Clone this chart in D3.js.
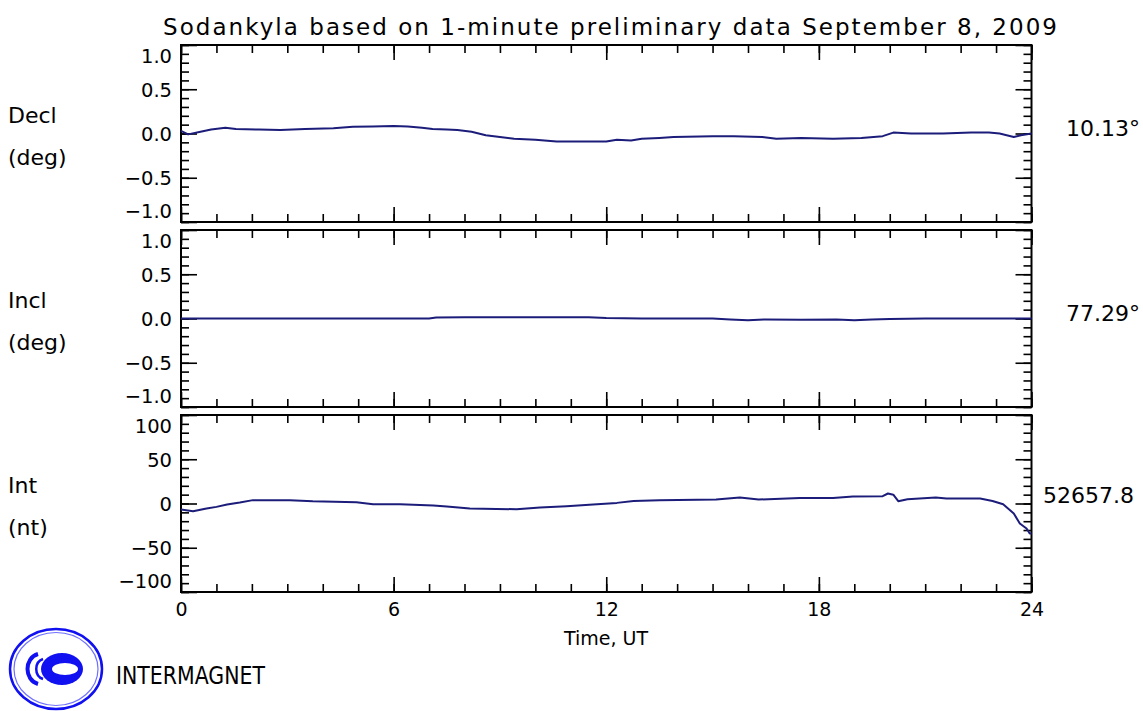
<!DOCTYPE html>
<html>
<head>
<meta charset="utf-8">
<script src="https://cdn.jsdelivr.net/npm/d3@7"></script>
<style>
  html, body { margin: 0; padding: 0; background: #fff; }
  svg { display: block; }
  text { font-family: "DejaVu Sans", sans-serif; fill: #000; }
</style>
</head>
<body>
<svg id="chart" width="1143" height="711"></svg>
<script>
// ---------------- DATA ----------------
const titleText = "Sodankyla based on 1-minute preliminary data September 8, 2009";
const xTicks = [0, 6, 12, 18, 24];
const xLabel = "Time, UT";

const panelNames = ["Decl", "Incl", "Int"];
const panelUnits = ["(deg)", "(deg)", "(nt)"];
const baselineValues = ["10.13°", "77.29°", "52657.8"];

const degTicks = [-1, -0.5, 0, 0.5, 1];
const degTickLabels = ["−1.0", "−0.5", "0.0", "0.5", "1.0"];
const intTicks = [-100, -50, 0, 50, 100];
const intTickLabels = ["−100", "−50", "0", "50", "100"];

const declHours = [0, 0.2, 0.55, 0.85, 1.25, 1.55, 2.2, 2.8, 3.5, 4.3, 4.85, 5.4, 6.0, 6.4, 6.8, 7.1, 7.5, 7.8,
  8.2, 8.6, 9.0, 9.4, 10.0, 10.6, 11.3, 12.0, 12.3, 12.7, 13.0, 13.5, 13.9, 15.0, 15.6, 16.4, 16.8, 17.5,
  18.4, 19.2, 19.8, 20.1, 20.6, 21.5, 22.3, 22.8, 23.1, 23.5, 23.7, 24];
const declValues = [0.03, -0.01, 0.02, 0.045, 0.065, 0.05, 0.045, 0.04, 0.05, 0.06, 0.075, 0.08, 0.085, 0.08, 0.065, 0.05, 0.045, 0.04,
  0.02, -0.02, -0.04, -0.06, -0.07, -0.09, -0.09, -0.09, -0.07, -0.08, -0.06, -0.05, -0.04, -0.03, -0.03, -0.04, -0.06, -0.05,
  -0.06, -0.05, -0.03, 0.01, 0.0, 0.0, 0.01, 0.01, 0.0, -0.04, -0.02, 0.0];

const inclHours = [0, 7.0, 7.2, 8.0, 11.5, 12.0, 13.0, 15.0, 15.5, 16.0, 16.5, 17.5, 18.5, 19.0, 19.5, 20.0, 21.0, 24];
const inclValues = [0, 0, 0.01, 0.015, 0.015, 0.005, 0, 0, -0.01, -0.02, -0.01, -0.015, -0.01, -0.02, -0.01, -0.005, 0, 0];

const intHours = [0, 0.34, 0.72, 1.0, 1.3, 1.66, 2.03, 3.07, 3.72, 4.95, 5.42, 6.18, 7.12, 7.5, 8.15, 9.47, 10.13, 10.88,
  11.63, 12.3, 12.77, 13.5, 15.1, 15.77, 16.3, 17.46, 18.4, 18.96, 19.8, 19.95, 20.1, 20.24, 20.5, 21.3, 21.6,
  22.55, 22.9, 23.2, 23.5, 23.67, 23.86, 23.95, 24];
const intValues = [-6.8, -8.7, -5.7, -3.8, -1.2, 1.1, 3.8, 3.8, 2.6, 1.5, -0.8, -0.8, -2.3, -3.5, -5.7, -6.5, -4.5, -3.0,
  -1.2, 0.7, 2.9, 3.8, 4.5, 6.8, 4.5, 6.3, 6.3, 8.0, 8.3, 11.3, 10, 2.6, 4.9, 6.8, 5.7,
  5.7, 2.9, -0.8, -11.3, -22.6, -28.3, -34, -34];

// ---------------- LAYOUT ----------------
const svg = d3.select("#chart");
const X0 = 181, X1 = 1031.5;
const panelTops = [45, 230, 415];
const PH = 177;
const lineColor = "#1c1c7a";

const x = d3.scaleLinear().domain([0, 24]).range([X0, X1]);
const xMinor = d3.range(0, 25, 1);

const panels = [
  { hours: declHours, values: declValues, ticks: degTicks, labels: degTickLabels, minorStep: 0.1 },
  { hours: inclHours, values: inclValues, ticks: degTicks, labels: degTickLabels, minorStep: 0.1 },
  { hours: intHours, values: intValues, ticks: intTicks, labels: intTickLabels, minorStep: 10 }
];

// Title
svg.append("text")
  .attr("x", 610).attr("y", 35)
  .attr("text-anchor", "middle")
  .attr("font-size", 23)
  .attr("textLength", 894).attr("lengthAdjust", "spacing")
  .text(titleText);

panels.forEach((p, i) => {
  const top = panelTops[i], bottom = top + PH;
  const lo = p.ticks[0], hi = p.ticks[p.ticks.length - 1];
  const y = d3.scaleLinear().domain([lo, hi]).range([bottom, top]);
  const minor = d3.range(0, Math.round((hi - lo) / p.minorStep) + 1).map(k => lo + k * p.minorStep);
  const g = svg.append("g");

  const clean = sel => { sel.select(".domain").remove(); sel.selectAll("line").attr("stroke", "#000").attr("stroke-width", 1.6); };

  // Left axis (major with labels + minor)
  const fmt = v => p.labels[p.ticks.indexOf(v)];
  const la = g.append("g").attr("transform", `translate(${X0},0)`)
    .call(d3.axisLeft(y).tickValues(p.ticks).tickSize(-16).tickPadding(9).tickFormat(fmt)).call(clean);
  la.selectAll("text").attr("font-size", 19.5).attr("font-family", "DejaVu Sans").attr("fill", "#000")
    .attr("dy", (d) => d === hi ? "0.9em" : (d === lo ? "-0.22em" : "0.36em"));
  g.append("g").attr("transform", `translate(${X0},0)`)
    .call(d3.axisLeft(y).tickValues(minor).tickSize(-8).tickFormat("")).call(clean);

  // Right axis
  g.append("g").attr("transform", `translate(${X1},0)`)
    .call(d3.axisRight(y).tickValues(p.ticks).tickSize(-16).tickFormat("")).call(clean);
  g.append("g").attr("transform", `translate(${X1},0)`)
    .call(d3.axisRight(y).tickValues(minor).tickSize(-8).tickFormat("")).call(clean);

  // Top axis
  g.append("g").attr("transform", `translate(0,${top})`)
    .call(d3.axisTop(x).tickValues(xTicks).tickSize(-15).tickFormat("")).call(clean);
  g.append("g").attr("transform", `translate(0,${top})`)
    .call(d3.axisTop(x).tickValues(xMinor).tickSize(-8).tickFormat("")).call(clean);

  // Bottom axis
  const ba = g.append("g").attr("transform", `translate(0,${bottom})`)
    .call(d3.axisBottom(x).tickValues(xTicks).tickSize(-15).tickPadding(11)
      .tickFormat(i === 2 ? d3.format("d") : "")).call(clean);
  ba.selectAll("text").attr("font-size", 19).attr("font-family", "DejaVu Sans").attr("fill", "#000");
  g.append("g").attr("transform", `translate(0,${bottom})`)
    .call(d3.axisBottom(x).tickValues(xMinor).tickSize(-8).tickFormat("")).call(clean);

  // Frame
  g.append("rect").attr("x", X0).attr("y", top).attr("width", X1 - X0).attr("height", PH)
    .attr("fill", "none").attr("stroke", "#000").attr("stroke-width", 2);

  // Data line
  const pts = p.hours.map((h, k) => [h, p.values[k]]);
  g.append("path").datum(pts)
    .attr("fill", "none").attr("stroke", lineColor).attr("stroke-width", 2)
    .attr("stroke-linejoin", "round")
    .attr("d", d3.line().x(d => x(d[0])).y(d => y(d[1])));

  // Side labels
  const baseY = 123 + i * 185;
  svg.append("text").attr("x", 8).attr("y", baseY).attr("font-size", 22).text(panelNames[i]);
  svg.append("text").attr("x", 8).attr("y", baseY + 42).attr("font-size", 22).text(panelUnits[i]);
  svg.append("text").attr("x", i === 2 ? 1043 : 1066).attr("y", [136, 321, 503][i])
    .attr("font-size", 22).text(baselineValues[i]);
});

// X axis title
svg.append("text").attr("x", 606).attr("y", 645).attr("text-anchor", "middle")
  .attr("font-size", 19).text(xLabel);

// INTERMAGNET logo
const logo = svg.append("g");
const blue = "#1010f0";
logo.append("ellipse").attr("cx", 56).attr("cy", 669).attr("rx", 46).attr("ry", 40)
  .attr("fill", "none").attr("stroke", blue).attr("stroke-width", 2.5);
logo.append("ellipse").attr("cx", 56).attr("cy", 669).attr("rx", 42).attr("ry", 36.5)
  .attr("fill", "none").attr("stroke", "#7070ff").attr("stroke-width", 1.2);
logo.append("ellipse").attr("cx", 62).attr("cy", 669).attr("rx", 21).attr("ry", 16).attr("fill", blue);
logo.append("ellipse").attr("cx", 65).attr("cy", 669).attr("rx", 13).attr("ry", 6).attr("fill", "#fff");
logo.append("path").attr("d", "M38,654 C24,658 24,680 38,684")
  .attr("fill", "none").attr("stroke", blue).attr("stroke-width", 4);
logo.append("path").attr("d", "M43,659 C34,662 34,676 43,679")
  .attr("fill", "none").attr("stroke", blue).attr("stroke-width", 2.5);
logo.append("text").attr("x", 116).attr("y", 684)
  .attr("font-family", "'Liberation Sans Narrow', 'Liberation Sans', sans-serif")
  .attr("font-size", 24).attr("textLength", 149).attr("lengthAdjust", "spacingAndGlyphs")
  .text("INTERMAGNET");
</script>
</body>
</html>
